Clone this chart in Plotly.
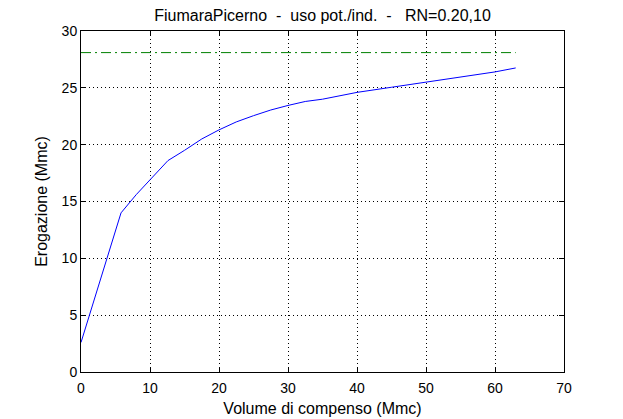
import plotly.graph_objects as go

volume = [0, 5.8, 8, 10, 12.6, 15, 17.5, 20, 22.5, 25, 27.5, 30, 32.5, 35, 40, 45, 50, 55, 60, 63]
erogazione = [2.6, 14.0, 15.6, 16.9, 18.6, 19.5, 20.5, 21.3, 22.0, 22.55, 23.05, 23.45, 23.8, 24.0, 24.6, 25.05, 25.5, 26.0, 26.4, 26.75]
ref_x = [0, 63]
ref_y = [28.1, 28.1]

x_ticks = [0, 10, 20, 30, 40, 50, 60, 70]
y_ticks = [0, 5, 10, 15, 20, 25, 30]

title = "FiumaraPicerno\u00a0 -\u00a0 uso pot./ind.\u00a0 -\u00a0\u00a0 RN=0.20,10"
x_label = "Volume di compenso (Mmc)"
y_label = "Erogazione (Mmc)"

W, H = 623, 419
# page has an 8px body margin; compensate so the plot area lands at 81..564 x 31..372
OFF = 8
L, R, T, B = 81 - OFF, W - (564 - OFF), 31 - OFF, H - (372 - OFF)

fig = go.Figure()
fig.add_trace(go.Scatter(x=volume, y=erogazione, mode="lines",
                         line=dict(color="#0000ff", width=1), showlegend=False))
fig.add_trace(go.Scatter(x=ref_x, y=ref_y, mode="lines",
                         line=dict(color="#008000", width=1, dash="10px,4px,2px,4px"),
                         showlegend=False))

axis_common = dict(
    showline=True, linecolor="black", linewidth=1, mirror="ticks",
    ticks="inside", ticklen=5, tickcolor="black",
    showgrid=True, gridcolor="black", gridwidth=1, griddash="1px,3px",
    zeroline=False, tickfont=dict(size=14, color="black"), automargin=False,
)

fig.update_layout(
    width=W, height=H,
    margin=dict(l=L, r=R, t=T, b=B),
    paper_bgcolor="white", plot_bgcolor="white",
    font=dict(family="Liberation Sans, Arial, sans-serif", size=14, color="black"),
    title=dict(text=title, x=((81 + 564) / 2 - OFF) / W, xanchor="center",
               y=1 - (15 - OFF) / H, yanchor="middle", font=dict(size=16, color="black")),
    xaxis=dict(range=[0, 70], tickvals=x_ticks, ticklabelstandoff=3,
               title=dict(text=x_label, standoff=8, font=dict(size=16)), **axis_common),
    yaxis=dict(range=[0, 30], tickvals=y_ticks,
               title=dict(text=y_label, standoff=10, font=dict(size=16)), **axis_common),
)

fig.write_html("out.html")
